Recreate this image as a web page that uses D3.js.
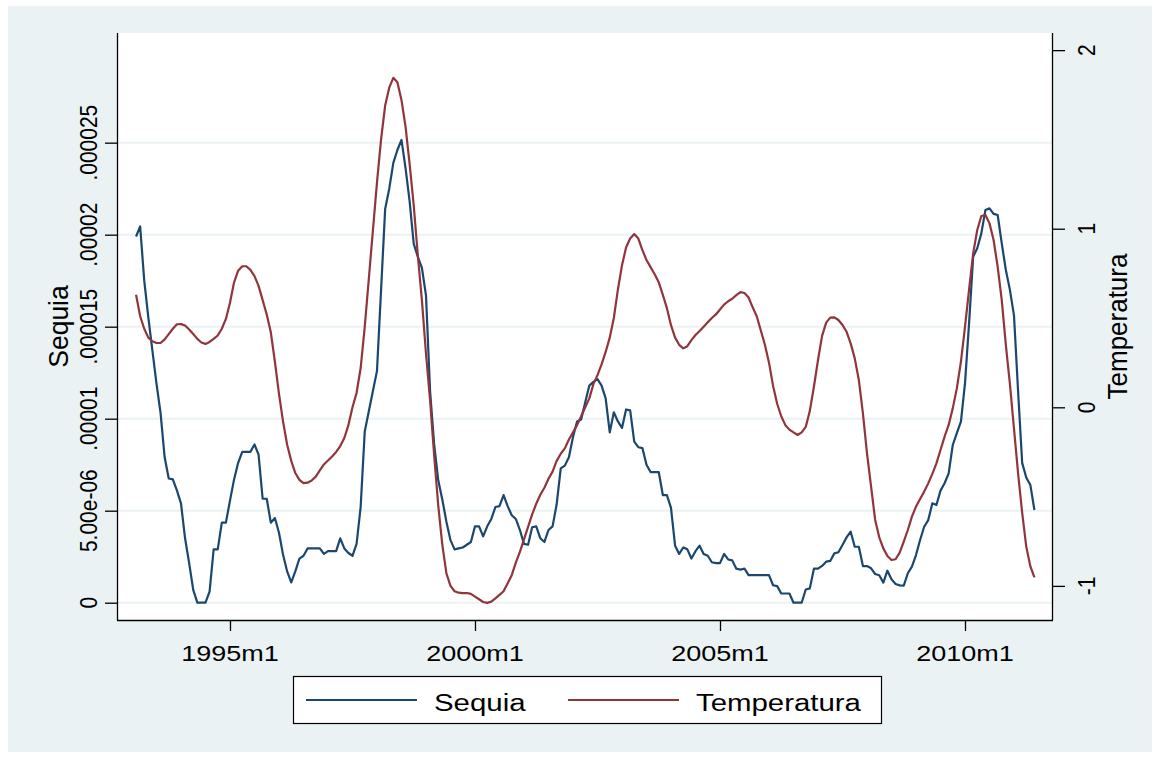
<!DOCTYPE html>
<html>
<head>
<meta charset="utf-8">
<script src="https://cdn.jsdelivr.net/npm/d3@7/dist/d3.min.js"></script>
<style>
  html, body { margin: 0; padding: 0; background: #ffffff; }
  svg { display: block; }
  text { font-family: "Liberation Sans", Arial, sans-serif; fill: #000; }
</style>
</head>
<body>
<div id="chart"></div>
<script>
// monthly series, Stata %tm (months since 1960m1); first obs = 1993m2
const firstMonth = 397;

// Sequia, in millionths
const sequia = [
  19.9, 20.45, 17.5, 15.5, 13.7, 11.9, 10.3, 7.9, 6.75, 6.7, 6.1, 5.4,
  3.5, 2.15, 0.7, 0, 0, 0, 0.6, 2.9, 2.9, 4.35, 4.35, 5.55,
  6.7, 7.6, 8.2, 8.2, 8.2, 8.6, 8.05, 5.65, 5.65, 4.35, 4.6, 3.8,
  2.6, 1.7, 1.1, 1.7, 2.4, 2.55, 2.95, 2.95, 2.95, 2.95, 2.65, 2.8,
  2.8, 2.8, 3.5, 2.95, 2.7, 2.55, 3.2, 5.2, 9.3, 10.4, 11.5, 12.6,
  17.0, 21.4, 22.5, 23.9, 24.6, 25.15, 23.6, 21.8, 19.5, 18.8, 18.2, 16.7,
  11.5, 8.6, 6.65, 5.6, 4.4, 3.4, 2.9, 2.95, 3.0, 3.15, 3.3, 4.15,
  4.15, 3.6, 4.15, 4.55, 5.2, 5.25, 5.85, 5.25, 4.75, 4.55, 3.95, 3.2,
  3.15, 4.1, 4.15, 3.5, 3.3, 3.95, 4.15, 5.35, 7.3, 7.45, 7.9, 9.0,
  9.85, 9.95, 10.9, 11.8, 12.0, 12.15, 11.8, 11.1, 9.25, 10.35, 9.85, 9.5,
  10.5, 10.45, 8.75, 8.45, 8.4, 7.5, 7.1, 7.1, 7.1, 5.85, 5.85, 5.15,
  3.1, 2.65, 3.0, 2.9, 2.4, 2.8, 3.1, 2.65, 2.55, 2.2, 2.15, 2.15,
  2.65, 2.35, 2.3, 1.85, 1.8, 1.85, 1.5, 1.5, 1.5, 1.5, 1.5, 1.5,
  0.95, 0.9, 0.5, 0.5, 0.5, 0, 0, 0, 0.72, 0.78, 1.85, 1.85,
  2.0, 2.23, 2.27, 2.68, 2.74, 3.14, 3.55, 3.86, 3.04, 3.04, 1.99, 1.99,
  1.87, 1.56, 1.49, 1.09, 1.74, 1.27, 1.02, 0.94, 0.93, 1.6, 1.96, 2.59,
  3.41, 4.13, 4.49, 5.4, 5.31, 6.09, 6.49, 7.03, 8.57, 9.21, 9.84, 11.92,
  15.19, 18.8, 19.26, 20.07, 21.34, 21.43, 21.13, 21.07, 19.53, 18.08, 17.0, 15.6,
  11.5, 7.6, 6.8, 6.4, 5.04
];

const temperatura = [
  0.63, 0.51, 0.44, 0.39, 0.37, 0.36, 0.36, 0.38, 0.41, 0.44, 0.465, 0.466,
  0.458, 0.436, 0.41, 0.383, 0.363, 0.355, 0.366, 0.383, 0.402, 0.44, 0.495, 0.585,
  0.7, 0.765, 0.79, 0.79, 0.77, 0.735, 0.68, 0.6, 0.52, 0.42, 0.255, 0.075,
  -0.08, -0.21, -0.3, -0.368, -0.406, -0.425, -0.422, -0.41, -0.388, -0.353, -0.32, -0.298,
  -0.275, -0.25, -0.217, -0.172, -0.1, 0.0, 0.08, 0.22, 0.45, 0.72, 0.99, 1.26,
  1.5, 1.69, 1.79, 1.845, 1.82, 1.72, 1.57, 1.36, 1.13, 0.85, 0.6, 0.3,
  0.04, -0.27, -0.55, -0.77, -0.93, -1.0, -1.03, -1.038, -1.04, -1.04, -1.045, -1.06,
  -1.075, -1.09, -1.095, -1.088, -1.07, -1.05, -1.03, -0.985, -0.94, -0.87, -0.81, -0.74,
  -0.67, -0.6, -0.54, -0.49, -0.45, -0.4, -0.36, -0.3, -0.26, -0.23, -0.18, -0.14,
  -0.1, -0.05, 0.0, 0.05, 0.13, 0.18, 0.24, 0.31, 0.39, 0.5, 0.66, 0.795,
  0.895, 0.945, 0.97, 0.945, 0.88, 0.825, 0.785, 0.745, 0.7, 0.63, 0.555, 0.46,
  0.39, 0.35, 0.33, 0.342, 0.376, 0.405, 0.427, 0.451, 0.476, 0.5, 0.52, 0.548,
  0.575, 0.594, 0.608, 0.628, 0.645, 0.64, 0.615, 0.56, 0.51, 0.43, 0.35, 0.25,
  0.12, 0.02, -0.05, -0.1, -0.125, -0.14, -0.155, -0.14, -0.11, -0.02, 0.115, 0.265,
  0.4, 0.474, 0.502, 0.504, 0.489, 0.461, 0.423, 0.358, 0.274, 0.153, -0.034, -0.258,
  -0.444, -0.631, -0.728, -0.79, -0.833, -0.855, -0.851, -0.814, -0.752, -0.687, -0.612, -0.556,
  -0.513, -0.472, -0.426, -0.373, -0.314, -0.239, -0.164, -0.099, -0.006, 0.106, 0.255, 0.451,
  0.66, 0.862, 0.993, 1.071, 1.077, 1.03, 0.937, 0.787, 0.6, 0.35, 0.13, -0.12,
  -0.37, -0.59, -0.78, -0.89, -0.952
];

const xTicks = [420, 480, 540, 600];          // 1995m1 ... 2010m1
const leftTicks = [0, 5e-6, 1e-5, 1.5e-5, 2e-5, 2.5e-5];
const leftTickLabels = ["0", "5.00e-06", ".00001", ".000015", ".00002", ".000025"];
const rightTicks = [-1, 0, 1, 2];
const seriesNames = ["Sequia", "Temperatura"];
const seriesColors = ["#1a476f", "#90353b"];

const W = 1153, H = 757;
const plot = { left: 117, right: 1053, top: 33, bottom: 620 };
const stretch = 1.2; // picture is wider than tall, text looks stretched sideways

const svg = d3.select('#chart').append('svg')
  .attr('width', W)
  .attr('height', H);

// outer graph region
svg.append('rect')
  .attr('x', 8).attr('y', 6)
  .attr('width', 1144).attr('height', 746)
  .attr('fill', '#eaf2f3');

svg.append('rect')
  .attr('x', plot.left).attr('y', plot.top)
  .attr('width', plot.right - plot.left).attr('height', plot.bottom - plot.top)
  .attr('fill', '#ffffff');

const x = d3.scaleLinear()
  .domain([firstMonth - 4.67, firstMonth + sequia.length - 1 + 4.55])
  .range([plot.left, plot.right]);

const yLeft = d3.scaleLinear()
  .domain([-0.94e-6, 30.96e-6])
  .range([plot.bottom, plot.top]);

const yRight = d3.scaleLinear()
  .domain([-1.191, 2.096])
  .range([plot.bottom, plot.top]);

// gridlines from the left axis
svg.append('g')
  .selectAll('line')
  .data(leftTicks)
  .enter()
  .append('line')
  .attr('x1', plot.left).attr('x2', plot.right)
  .attr('y1', d => yLeft(d)).attr('y2', d => yLeft(d))
  .attr('stroke', '#eaf2f3')
  .attr('stroke-width', 2);

// series
const monthOf = i => firstMonth + i;

const sequiaLine = d3.line()
  .x((d, i) => x(monthOf(i)))
  .y(d => yLeft(d * 1e-6));

const tempLine = d3.line()
  .x((d, i) => x(monthOf(i)))
  .y(d => yRight(d));

svg.append('path')
  .datum(sequia)
  .attr('d', sequiaLine)
  .attr('fill', 'none')
  .attr('stroke', seriesColors[0])
  .attr('stroke-width', 2.2)
  .attr('stroke-linejoin', 'round');

svg.append('path')
  .datum(temperatura)
  .attr('d', tempLine)
  .attr('fill', 'none')
  .attr('stroke', seriesColors[1])
  .attr('stroke-width', 2.2)
  .attr('stroke-linejoin', 'round');

// axes
const leftAxis = svg.append('g')
  .attr('transform', `translate(${plot.left},0)`)
  .call(d3.axisLeft(yLeft).tickValues(leftTicks).tickSize(12).tickFormat(''));

const rightAxis = svg.append('g')
  .attr('transform', `translate(${plot.right},0)`)
  .call(d3.axisRight(yRight).tickValues(rightTicks).tickSize(12).tickFormat(''));

const bottomAxis = svg.append('g')
  .attr('transform', `translate(0,${plot.bottom})`)
  .call(d3.axisBottom(x).tickValues(xTicks).tickSize(11).tickFormat(''));

[leftAxis, rightAxis, bottomAxis].forEach(g => {
  g.select('.domain').attr('stroke', '#000').attr('stroke-width', 1.3);
  g.selectAll('.tick line').attr('stroke', '#000').attr('stroke-width', 1.3);
});
// the axis path draws outer ticks, redraw plain lines instead
leftAxis.select('.domain').attr('d', `M0.5,${plot.top}V${plot.bottom}`);
rightAxis.select('.domain').attr('d', `M-0.5,${plot.top}V${plot.bottom}`);
bottomAxis.select('.domain').attr('d', `M${plot.left},0.5H${plot.right}`);

// tick labels
svg.append('g')
  .selectAll('text')
  .data(leftTicks)
  .enter()
  .append('text')
  .attr('transform', d => `translate(97,${yLeft(d)}) scale(1.1,1) rotate(-90)`)
  .attr('text-anchor', 'middle')
  .attr('font-size', 21)
  .text((d, i) => leftTickLabels[i]);

svg.append('g')
  .selectAll('text')
  .data(rightTicks)
  .enter()
  .append('text')
  .attr('transform', d => `translate(1095,${yRight(d)}) scale(1.1,1) rotate(-90)`)
  .attr('text-anchor', 'middle')
  .attr('font-size', 21)
  .text(d => d3.format('d')(d).replace('−', '-'));

const monthLabel = m => `${Math.floor(m / 12) + 1960}m${(m % 12) + 1}`;

svg.append('g')
  .selectAll('text')
  .data(xTicks)
  .enter()
  .append('text')
  .attr('transform', d => `translate(${x(d)},661) scale(${stretch},1)`)
  .attr('text-anchor', 'middle')
  .attr('font-size', 22.5)
  .text(d => monthLabel(d));

// axis titles
svg.append('text')
  .attr('transform', `translate(68,${(plot.top + plot.bottom) / 2}) scale(1.05,1) rotate(-90)`)
  .attr('text-anchor', 'middle')
  .attr('font-size', 26.5)
  .text(seriesNames[0]);

svg.append('text')
  .attr('transform', `translate(1127,${(plot.top + plot.bottom) / 2}) scale(1.05,1) rotate(-90)`)
  .attr('text-anchor', 'middle')
  .attr('font-size', 26)
  .text(seriesNames[1]);

// legend
const legend = svg.append('g');
legend.append('rect')
  .attr('x', 293.5).attr('y', 676.5)
  .attr('width', 588).attr('height', 47)
  .attr('fill', '#ffffff')
  .attr('stroke', '#000')
  .attr('stroke-width', 1.2);

const legendItems = [
  { name: seriesNames[0], color: seriesColors[0], x0: 306, x1: 417, tx: 434 },
  { name: seriesNames[1], color: seriesColors[1], x0: 568, x1: 679, tx: 696 }
];

legendItems.forEach(d => {
  legend.append('line')
    .attr('x1', d.x0).attr('x2', d.x1)
    .attr('y1', 700).attr('y2', 700)
    .attr('stroke', d.color)
    .attr('stroke-width', 2.2);
  legend.append('text')
    .attr('transform', `translate(${d.tx},711) scale(${stretch},1)`)
    .attr('font-size', 24.5)
    .text(d.name);
});
</script>
</body>
</html>
